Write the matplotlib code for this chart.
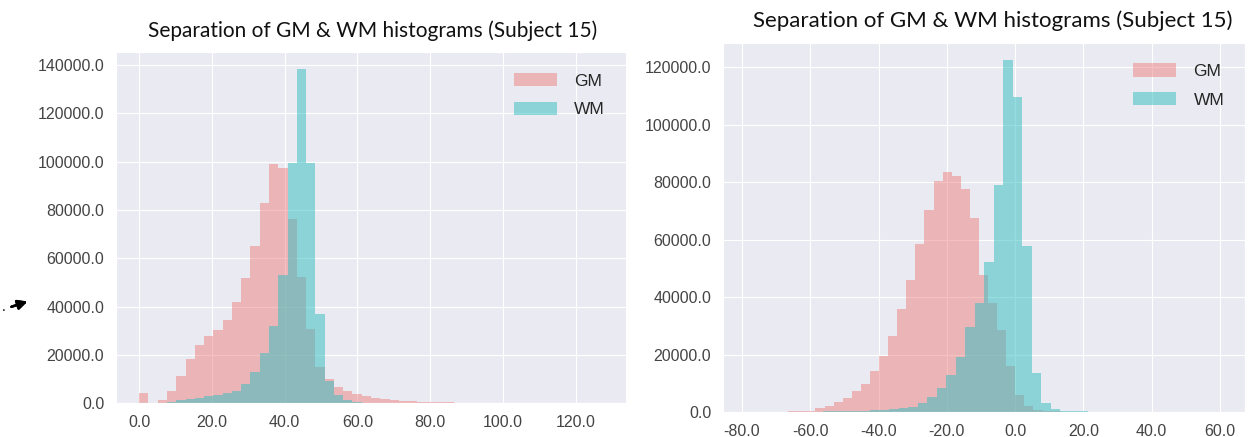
import numpy as np
import matplotlib
matplotlib.use("Agg")
import matplotlib.pyplot as plt
import seaborn as sns
from matplotlib.ticker import FormatStrFormatter, MultipleLocator

# histogram counts (50 bins per series)
left_range = (0.0, 127.5)
gm_left = [4200, 100, 1600, 5100, 11500, 18400, 24000, 28000, 30200, 34500,
           41800, 52000, 65000, 83000, 99000, 97500, 76500, 52500, 31000, 15000,
           10000, 6800, 5300, 4000, 3000, 2300, 1800, 1400, 1100, 900,
           750, 620, 520, 450, 390, 340, 300, 270, 240, 220,
           200, 180, 160, 150, 140, 130, 120, 110, 100, 150]
wm_left = [0, 0, 200, 700, 1300, 1900, 2400, 2900, 3400, 4200,
           5300, 8000, 13000, 21000, 32000, 53000, 99500, 138500, 99500, 37000,
           9500, 3500, 1500, 700, 400, 250, 150, 100, 80, 60,
           50, 50, 40, 40, 30, 30, 30, 20, 20, 20,
           20, 20, 10, 10, 10, 10, 10, 10, 10, 10]

gm_right_range = (-77.1, 55.9)
wm_right_range = (-78.6, 60.4)
gm_right = [50, 80, 100, 150, 200, 300, 500, 1300, 2100, 3500,
            5000, 7200, 9800, 14200, 19600, 26500, 35800, 46000, 58600, 70300,
            80500, 83500, 82000, 77500, 67500, 47500, 38000, 28500, 16000, 6000,
            2000, 700, 300, 200, 150, 120, 100, 90, 80, 70,
            60, 50, 50, 40, 40, 30, 30, 20, 20, 20]
wm_right = [0, 0, 0, 0, 50, 80, 100, 150, 200, 250,
            300, 400, 500, 650, 800, 1000, 1300, 1800, 3000, 5300,
            8500, 13000, 19000, 29700, 37800, 52300, 79000, 122400, 109700, 57800,
            13500, 3000, 900, 400, 250, 200, 150, 120, 100, 90,
            80, 70, 60, 50, 50, 40, 40, 30, 30, 30]

title = "Separation of GM & WM histograms (Subject 15)"
gm_color = "#EC8280"
wm_color = "#2EBEBE"

sns.set_style("darkgrid")
plt.rcParams["font.family"] = ["Liberation Sans", "DejaVu Sans"]

fig = plt.figure(figsize=(12.54, 4.37), dpi=100)
ax1 = fig.add_axes([0.0925, 0.0767, 0.4067, 0.8043])
ax2 = fig.add_axes([0.5766, 0.0572, 0.4163, 0.8453])


def draw(ax, gm, wm, gm_rng, wm_rng):
    gm_edges = np.linspace(gm_rng[0], gm_rng[1], len(gm) + 1)
    wm_edges = np.linspace(wm_rng[0], wm_rng[1], len(wm) + 1)
    ax.hist(gm_edges[:-1], bins=gm_edges, weights=gm, color=gm_color,
            alpha=0.5, label="GM", histtype="stepfilled", linewidth=0)
    ax.hist(wm_edges[:-1], bins=wm_edges, weights=wm, color=wm_color,
            alpha=0.5, label="WM", histtype="stepfilled", linewidth=0)
    ax.yaxis.set_major_formatter(FormatStrFormatter("%.1f"))
    ax.xaxis.set_major_formatter(FormatStrFormatter("%.1f"))
    ax.xaxis.set_major_locator(MultipleLocator(20))
    ax.yaxis.set_major_locator(MultipleLocator(20000))
    ax.tick_params(labelsize=11.5, colors="#444444", pad=5)
    ax.legend(loc="upper right", fontsize=12.5, frameon=False,
              handlelength=2.5, handleheight=0.8, labelspacing=0.75,
              handletextpad=1.0, borderaxespad=0.8)


draw(ax1, gm_left, wm_left, left_range, left_range)
draw(ax2, gm_right, wm_right, gm_right_range, wm_right_range)

fig.text(0.297, 0.929, title, ha="center", va="center", fontsize=15,
         family="Lato", color="#111111")
fig.text(0.792, 0.952, title, ha="center", va="center", fontsize=16,
         family="Lato", color="#111111")

# stray arrow at the left edge of the original figure
fig.text(0.0014, 0.298, ".", fontsize=10, color="black", va="center")
fig.add_artist(plt.annotate("", xy=(0.024, 0.312), xytext=(0.007, 0.296),
                            xycoords="figure fraction",
                            arrowprops=dict(arrowstyle="-|>", color="black",
                                            lw=1.8, mutation_scale=14)))

fig.savefig("out.png", dpi=100)
